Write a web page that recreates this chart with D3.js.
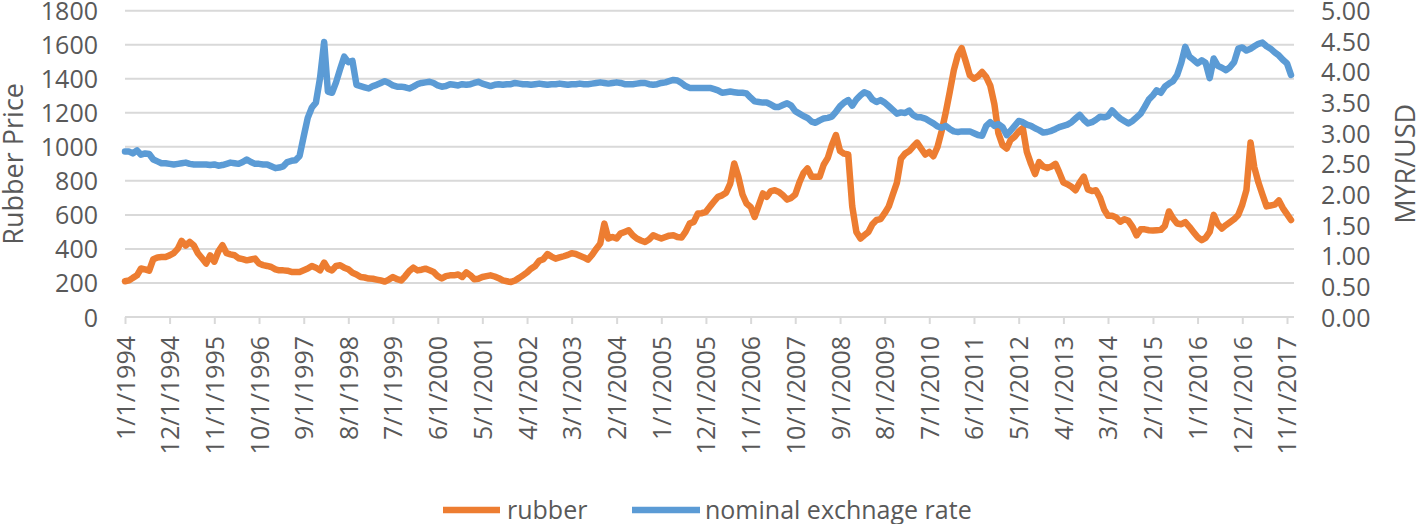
<!DOCTYPE html>
<html>
<head>
<meta charset="utf-8">
<script src="https://cdn.jsdelivr.net/npm/d3@7"></script>
<style>
  html, body { margin: 0; padding: 0; background: #fff; }
  svg { display: block; }
  text { font-family: "Open Sans", sans-serif; fill: #595959; }
</style>
</head>
<body>
<svg id="chart" width="1418" height="524"></svg>
<script>
// ---------- DATA ----------
const startMonth = "1994-01-01";
const rubber = [
  210,215,230,245,285,280,272,340,350,352,353,362,
  375,402,447,420,441,420,375,345,314,362,325,385,
  422,375,368,363,345,340,333,338,343,314,305,300,
  294,280,274,274,272,265,265,265,275,285,300,290,
  274,320,284,274,300,304,290,280,260,250,235,232,
  226,225,220,215,208,220,235,222,215,240,270,290,
  274,278,284,275,265,240,226,240,245,245,250,235,
  262,245,222,225,235,240,245,238,228,215,210,205,
  215,230,245,262,284,300,330,340,370,355,343,350,
  357,365,375,370,360,350,337,365,400,431,549,461,
  470,461,490,500,510,480,461,450,441,455,480,470,
  461,470,478,480,470,467,500,549,559,608,610,618,
  650,680,706,715,730,784,902,824,720,667,647,588,
  657,726,706,740,745,735,715,690,700,720,790,845,
  873,824,824,824,895,935,1010,1069,975,960,955,650,
  500,461,480,500,545,570,575,610,650,720,790,930,
  960,975,1000,1025,990,955,970,945,1000,1090,1200,1320,
  1450,1540,1580,1500,1420,1400,1415,1440,1410,1360,1250,1080,
  1010,990,1040,1060,1090,1110,970,900,840,910,885,875,
  885,900,850,790,780,765,745,790,825,750,740,745,
  700,630,595,595,585,560,575,565,530,480,515,515,
  510,508,510,512,535,620,580,549,545,558,530,500,
  470,452,465,500,600,545,520,540,558,575,600,660,
  745,1025,880,790,720,650,655,660,685,640,605,570
];
const exchangeRate = [
  2.70,2.70,2.67,2.72,2.65,2.67,2.66,2.57,2.54,2.51,2.51,2.50,
  2.49,2.50,2.51,2.52,2.50,2.49,2.49,2.49,2.49,2.48,2.49,2.47,
  2.48,2.50,2.52,2.51,2.50,2.53,2.57,2.53,2.50,2.50,2.49,2.49,
  2.46,2.43,2.44,2.46,2.53,2.55,2.56,2.63,2.95,3.25,3.42,3.50,
  3.90,4.49,3.68,3.66,3.83,4.05,4.25,4.16,4.18,3.79,3.77,3.75,
  3.73,3.77,3.79,3.82,3.85,3.82,3.78,3.76,3.76,3.75,3.73,3.76,
  3.80,3.82,3.83,3.84,3.82,3.78,3.76,3.77,3.80,3.79,3.78,3.80,
  3.79,3.80,3.82,3.84,3.81,3.79,3.77,3.79,3.80,3.79,3.80,3.80,
  3.82,3.81,3.80,3.80,3.79,3.80,3.81,3.80,3.79,3.80,3.80,3.81,
  3.80,3.79,3.80,3.80,3.81,3.80,3.80,3.81,3.82,3.83,3.82,3.81,
  3.82,3.83,3.82,3.80,3.80,3.80,3.81,3.82,3.82,3.80,3.79,3.80,
  3.82,3.83,3.85,3.87,3.86,3.82,3.77,3.74,3.74,3.74,3.74,3.74,
  3.74,3.72,3.70,3.66,3.67,3.68,3.67,3.66,3.66,3.65,3.58,3.52,
  3.51,3.50,3.50,3.47,3.43,3.43,3.46,3.49,3.45,3.36,3.32,3.28,
  3.25,3.19,3.17,3.21,3.24,3.25,3.27,3.35,3.44,3.50,3.54,3.45,
  3.55,3.62,3.67,3.64,3.55,3.51,3.54,3.50,3.44,3.38,3.32,3.34,
  3.33,3.37,3.30,3.26,3.26,3.24,3.20,3.16,3.11,3.09,3.12,3.07,
  3.03,3.02,3.03,3.03,3.03,3.00,2.97,2.96,3.12,3.18,3.12,3.15,
  3.10,2.97,3.04,3.12,3.20,3.18,3.14,3.12,3.08,3.05,3.01,3.02,
  3.04,3.07,3.10,3.12,3.14,3.18,3.24,3.30,3.22,3.16,3.18,3.22,
  3.27,3.26,3.28,3.37,3.30,3.24,3.20,3.16,3.20,3.26,3.32,3.43,
  3.55,3.62,3.70,3.66,3.76,3.81,3.85,3.95,4.15,4.41,4.25,4.20,
  4.14,4.19,4.15,3.90,4.22,4.10,4.07,4.03,4.08,4.16,4.38,4.40,
  4.35,4.38,4.42,4.46,4.48,4.42,4.38,4.32,4.27,4.20,4.14,3.95
];
const xTickLabels = [
  "1/1/1994","12/1/1994","11/1/1995","10/1/1996","9/1/1997","8/1/1998",
  "7/1/1999","6/1/2000","5/1/2001","4/1/2002","3/1/2003","2/1/2004",
  "1/1/2005","12/1/2005","11/1/2006","10/1/2007","9/1/2008","8/1/2009",
  "7/1/2010","6/1/2011","5/1/2012","4/1/2013","3/1/2014","2/1/2015",
  "1/1/2016","12/1/2016","11/1/2017"
];
const leftTicks = [0,200,400,600,800,1000,1200,1400,1600,1800];
const rightTicks = [0,0.5,1,1.5,2,2.5,3,3.5,4,4.5,5];
const seriesNames = ["rubber", "nominal exchnage rate"];
const seriesColors = ["#ED7D31", "#5B9BD5"];

// ---------- CHART ----------
const svg = d3.select("#chart");
const parseTick = d3.timeParse("%m/%d/%Y");
const start = new Date(startMonth + "T00:00:00");
const dates = rubber.map((_, i) => d3.timeMonth.offset(start, i));

const plotLeft = 125, plotRight = 1294, plotTop = 10.7, plotBottom = 317;
const x = d3.scaleTime().domain([dates[0], dates[dates.length - 1]]).range([125, 1291]);
const yL = d3.scaleLinear().domain([0, 1800]).range([plotBottom, plotTop]);
const yR = d3.scaleLinear().domain([0, 5]).range([plotBottom, plotTop]);

// gridlines
svg.append("g").selectAll("line").data(leftTicks.slice(1)).join("line")
  .attr("x1", plotLeft).attr("x2", plotRight)
  .attr("y1", d => yL(d)).attr("y2", d => yL(d))
  .attr("stroke", "#D9D9D9").attr("stroke-width", 2);

// x axis
const tickDates = xTickLabels.map(parseTick);
const xAxis = d3.axisBottom(x).tickValues(tickDates).tickSize(7)
  .tickFormat((d, i) => xTickLabels[i]);
const gx = svg.append("g").attr("transform", `translate(0,${plotBottom})`).call(xAxis);
gx.select(".domain").attr("d", `M${plotLeft},0H${plotRight}`).attr("stroke", "#D9D9D9").attr("stroke-width", 2);
gx.selectAll(".tick line").attr("stroke", "#D9D9D9").attr("stroke-width", 2);
gx.selectAll(".tick text")
  .attr("font-size", 25).attr("fill", "#595959")
  .attr("transform", "rotate(-90)")
  .attr("text-anchor", "end")
  .attr("x", -19).attr("y", 0).attr("dy", "0.36em");

// left axis
const gl = svg.append("g").attr("transform", `translate(98,0)`)
  .call(d3.axisLeft(yL).tickValues(leftTicks).tickSize(0).tickPadding(0).tickFormat(d3.format("d")));
gl.select(".domain").remove();
gl.selectAll("text").attr("font-size", 25).attr("fill", "#595959").attr("dy", "0.36em");

// right axis
const gr = svg.append("g").attr("transform", `translate(1321,0)`)
  .call(d3.axisRight(yR).tickValues(rightTicks).tickSize(0).tickPadding(0).tickFormat(d3.format(".2f")));
gr.select(".domain").remove();
gr.selectAll("text").attr("font-size", 25).attr("fill", "#595959").attr("dy", "0.36em");

// axis titles
svg.append("text").attr("transform", `translate(23,${(plotTop + plotBottom) / 2}) rotate(-90)`)
  .attr("text-anchor", "middle").attr("font-size", 27).text("Rubber Price");
svg.append("text").attr("transform", `translate(1415,${(plotTop + plotBottom) / 2}) rotate(-90)`)
  .attr("text-anchor", "middle").attr("font-size", 27).text("MYR/USD");

// lines
const lineL = d3.line().x((d, i) => x(dates[i])).y(d => yL(d)).curve(d3.curveLinear);
const lineR = d3.line().x((d, i) => x(dates[i])).y(d => yR(d)).curve(d3.curveLinear);
svg.append("path").datum(rubber).attr("d", lineL)
  .attr("fill", "none").attr("stroke", seriesColors[0]).attr("stroke-width", 6.5)
  .attr("stroke-linejoin", "round").attr("stroke-linecap", "round");
svg.append("path").datum(exchangeRate).attr("d", lineR)
  .attr("fill", "none").attr("stroke", seriesColors[1]).attr("stroke-width", 6.5)
  .attr("stroke-linejoin", "round").attr("stroke-linecap", "round");

// legend
const legend = svg.append("g");
const legendItems = [
  {name: seriesNames[0], color: seriesColors[0], x1: 443, x2: 500, tx: 507},
  {name: seriesNames[1], color: seriesColors[1], x1: 632, x2: 700, tx: 705}
];
legendItems.forEach(it => {
  legend.append("line").attr("x1", it.x1).attr("x2", it.x2).attr("y1", 510).attr("y2", 510)
    .attr("stroke", it.color).attr("stroke-width", 6.5);
  legend.append("text").attr("x", it.tx).attr("y", 510).attr("dy", "0.36em")
    .attr("font-size", 25).text(it.name);
});
</script>
</body>
</html>
